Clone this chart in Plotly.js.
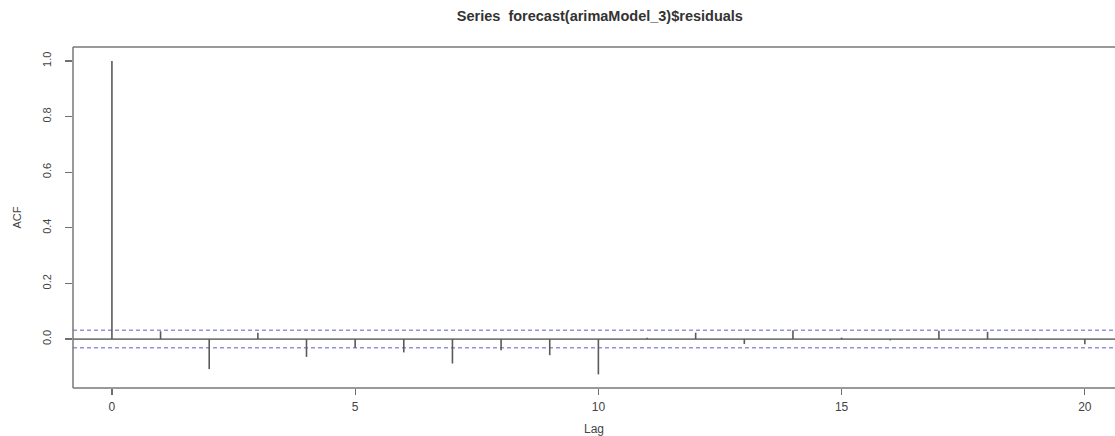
<!DOCTYPE html>
<html>
<head>
<meta charset="utf-8">
<script src="https://cdn.plot.ly/plotly-3.0.1.min.js"></script>
<style>html,body{margin:0;padding:0;background:#fff;}#chart{width:1115px;height:436px;}</style>
</head>
<body>
<div id="chart"></div>
<script>
// Lags and ACF values of the residuals
const lags = [0,1,2,3,4,5,6,7,8,9,10,11,12,13,14,15,16,17,18,19,20];
const acfValues = [1.0,0.028,-0.108,0.023,-0.064,-0.031,-0.048,-0.088,-0.040,-0.058,-0.127,0.005,0.023,-0.018,0.032,0.005,-0.005,0.030,0.026,-0.002,-0.019];
const ciBound = 0.0315;
const yTicks = [0.0,0.2,0.4,0.6,0.8,1.0];
const yTickLabels = ["0.0","0.2","0.4","0.6","0.8","1.0"];
const xTicks = [0,5,10,15,20];
const xTickLabels = ["0","5","10","15","20"];

const segX = [], segY = [];
lags.forEach((k,i)=>{ segX.push(k,k,null); segY.push(0,acfValues[i],null); });

const xr = [-0.8, 20.62];
const traces = [
  {x: xr, y:[0,0], mode:'lines', line:{color:'#7a7a7a', width:1.8}, hoverinfo:'skip'},
  {x: xr, y:[ciBound,ciBound], mode:'lines', line:{color:'#9393dc', width:1.4, dash:'4px,3px'}, hoverinfo:'skip'},
  {x: xr, y:[-ciBound,-ciBound], mode:'lines', line:{color:'#9393dc', width:1.4, dash:'4px,3px'}, hoverinfo:'skip'},
  {x: segX, y: segY, mode:'lines', line:{color:'#5a5a5a', width:1.6}, hoverinfo:'skip'}
];

const fontFam = '"Liberation Sans", Arial, sans-serif';
const layout = {
  width:1115, height:436,
  margin:{l:73, r:0, t:47, b:48},
  paper_bgcolor:'#fff', plot_bgcolor:'#fff',
  showlegend:false,
  title:{text:'<b>Series  forecast(arimaModel_3)$residuals</b>', x:0.538, xanchor:'center', y:0.975, yanchor:'top', font:{family:fontFam, size:14.5, color:'#333'}},
  xaxis:{range:xr, tickvals:xTicks, ticktext:xTickLabels, showgrid:false, zeroline:false, showline:false,
    ticks:'outside', ticklen:6, tickcolor:'#707070', tickwidth:1.2, ticklabelstandoff:2,
    tickfont:{family:fontFam, size:12, color:'#444'},
    title:{text:'Lag', font:{family:fontFam, size:12, color:'#444'}, standoff:19}},
  yaxis:{range:[-0.176,1.05], tickvals:yTicks, ticktext:yTickLabels, tickangle:-90, showgrid:false, zeroline:false, showline:false,
    ticks:'outside', ticklen:7, tickcolor:'#707070', tickwidth:1.2, ticklabelstandoff:10,
    tickfont:{family:fontFam, size:11, color:'#444'},
    title:{text:'ACF', font:{family:fontFam, size:11, color:'#444'}, standoff:16}},
  shapes:[
    {type:'line', xref:'paper', yref:'paper', x0:0, x1:1, y0:1, y1:1, line:{color:'#777', width:1.5}},
    {type:'line', xref:'paper', yref:'paper', x0:0, x1:1, y0:0, y1:0, line:{color:'#777', width:1.5}},
    {type:'line', xref:'paper', yref:'paper', x0:0, x1:0, y0:0, y1:1, line:{color:'#777', width:1.5}}
  ]
};
Plotly.newPlot('chart', traces, layout, {staticPlot:true, displayModeBar:false});
</script>
</body>
</html>
